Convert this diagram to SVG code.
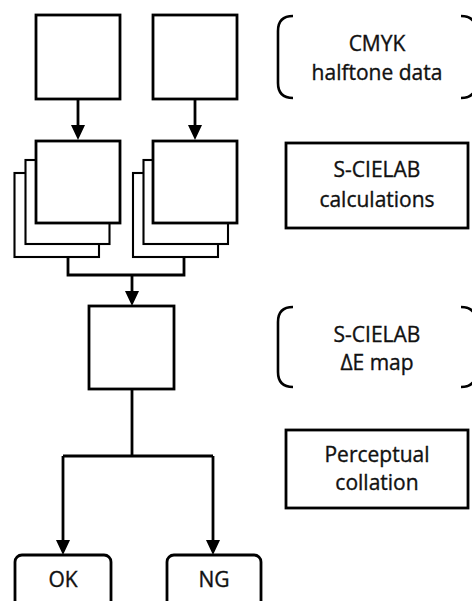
<svg xmlns="http://www.w3.org/2000/svg" width="472" height="601" viewBox="0 0 472 601">
<defs>
<style>
.box{fill:#fff;stroke:#000;stroke-width:2.8}
.stk{fill:#fff;stroke:#000;stroke-width:2.1}
.ln{fill:none;stroke:#000;stroke-width:2.8}
.br{fill:none;stroke:#000;stroke-width:2.6}
.t{font-family:"Open Sans","Noto Sans",sans-serif;font-size:21px;fill:#111;stroke:#111;stroke-width:0.35;text-anchor:middle}
</style>
<marker id="ah" markerUnits="userSpaceOnUse" markerWidth="16" markerHeight="16" refX="1" refY="7" orient="auto">
<path d="M0,0 L15,7 L0,14 z" fill="#000"/>
</marker>
</defs>
<g id="connectors">
<path class="ln" d="M78,99 V126" marker-end="url(#ah)"/>
<path class="ln" d="M195,99 V126" marker-end="url(#ah)"/>
<path class="ln" d="M68,244 V275 H184 V245"/>
<path class="ln" d="M132,275 V292" marker-end="url(#ah)"/>
<path class="ln" d="M132,389 V456"/>
<path class="ln" d="M63,456 H213"/>
<path class="ln" d="M63,456 V541" marker-end="url(#ah)"/>
<path class="ln" d="M213,456 V541" marker-end="url(#ah)"/>
</g>
<g id="input-left"><rect class="box" x="36" y="15" width="84" height="84"/></g>
<g id="input-right"><rect class="box" x="153" y="15" width="84" height="84"/></g>
<g id="stack-left">
<rect class="stk" x="14.5" y="173" width="84.5" height="84"/>
<rect class="stk" x="25.5" y="160" width="84" height="84"/>
<rect class="box" x="36" y="141" width="84" height="82"/>
</g>
<g id="stack-right">
<rect class="stk" x="133" y="173" width="85" height="84"/>
<rect class="stk" x="143.5" y="160" width="84.5" height="84"/>
<rect class="box" x="153" y="141" width="84" height="82"/>
</g>
<g id="map"><rect class="box" x="89" y="306" width="85" height="83"/></g>
<g id="ok"><rect class="box" x="15" y="555" width="96" height="60" rx="7"/><text class="t" x="63" y="587">OK</text></g>
<g id="ng"><rect class="box" x="167" y="555" width="94" height="60" rx="7"/><text class="t" x="214" y="587">NG</text></g>
<g id="label-cmyk">
<path class="br" d="M293,16 Q278,16 278,31 V83 Q278,98 293,98"/>
<path class="br" d="M461,16 Q476,16 476,31 V83 Q476,98 461,98"/>
<text class="t" x="377" y="51">CMYK</text>
<text class="t" x="377" y="80">halftone data</text>
</g>
<g id="label-calc">
<rect class="box" x="286" y="143" width="182" height="85"/>
<text class="t" x="377" y="177">S-CIELAB</text>
<text class="t" x="377" y="207">calculations</text>
</g>
<g id="label-map">
<path class="br" d="M293,307 Q278,307 278,322 V372 Q278,387 293,387"/>
<path class="br" d="M461,307 Q476,307 476,322 V372 Q476,387 461,387"/>
<text class="t" x="377" y="342">S-CIELAB</text>
<text class="t" x="377" y="370">ΔE map</text>
</g>
<g id="label-collation">
<rect class="box" x="286" y="430" width="182" height="78"/>
<text class="t" x="377" y="462">Perceptual</text>
<text class="t" x="377" y="490">collation</text>
</g>
</svg>
